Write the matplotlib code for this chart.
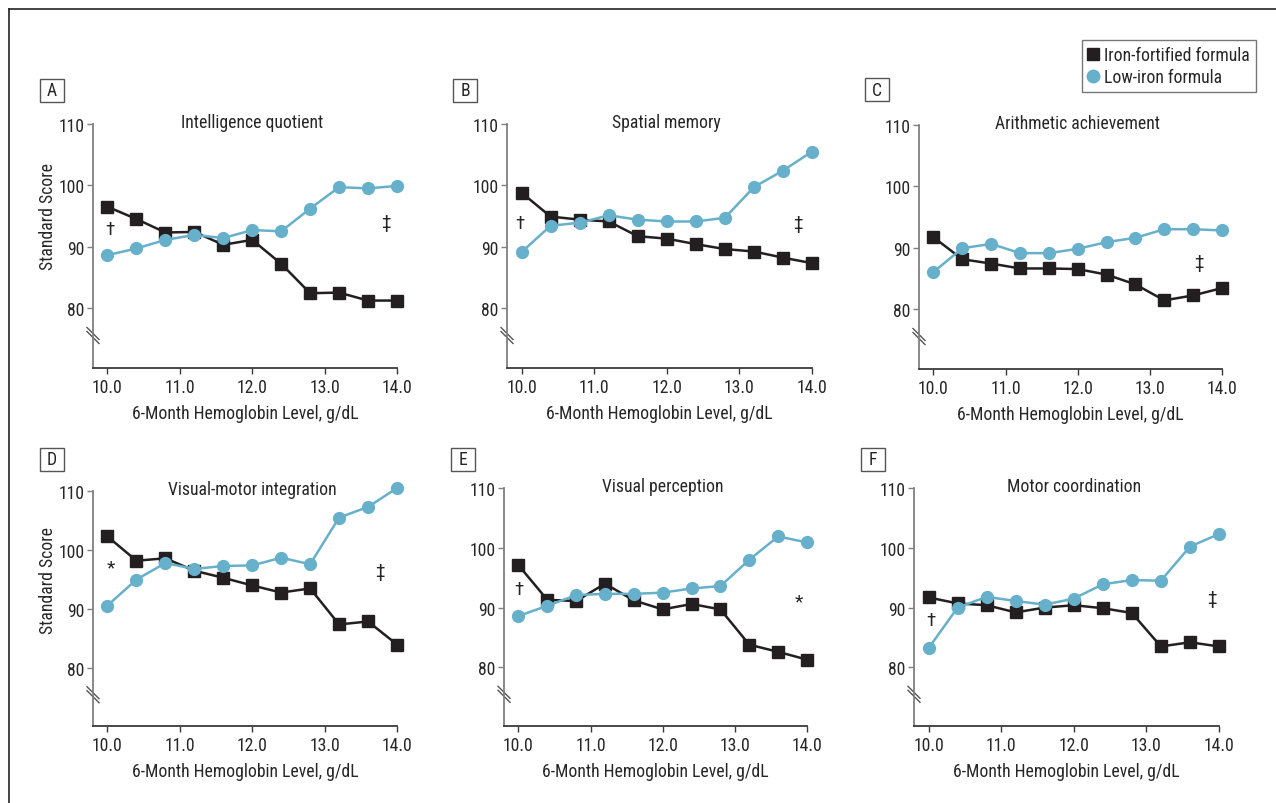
import matplotlib
matplotlib.use("Agg")
import matplotlib.pyplot as plt
from matplotlib.lines import Line2D
from matplotlib.patches import Rectangle
from matplotlib import font_manager

# ---- pick a condensed sans font if one is installed ----
FS = 12.7
chosen = None
stretch = "normal"
pref = ["Liberation Sans Narrow", "DejaVu Sans Condensed", "Roboto Condensed",
        "Open Sans Condensed", "Noto Sans Condensed", "Arial Narrow"]
entries = font_manager.fontManager.ttflist
names = {f.name for f in entries}
for p in pref:
    if p in names:
        chosen = p
        break
if chosen is None:
    for f in entries:
        st = str(f.stretch).lower()
        if ("condensed" in st or "narrow" in f.name.lower() or "condensed" in f.name.lower()) \
                and f.style == "normal" and str(f.weight) in ("400", "normal", "regular"):
            if "extra" in st or "ultra" in st:
                continue
            chosen = f.name
            if "condensed" in st and "condensed" not in f.name.lower():
                stretch = st
            break
if chosen is None:
    chosen = "Liberation Sans"
    FS = 10.5
plt.rcParams['font.family'] = [chosen, 'DejaVu Sans']
plt.rcParams['font.stretch'] = stretch

W, H = 1276, 804

hb = [10.0, 10.4, 10.8, 11.2, 11.6, 12.0, 12.4, 12.8, 13.2, 13.6, 14.0]
x_ticks = [10.0, 11.0, 12.0, 13.0, 14.0]
x_ticklabels = ["10.0", "11.0", "12.0", "13.0", "14.0"]
y_ticks = [80, 90, 100, 110]

titles = ["Intelligence quotient", "Spatial memory", "Arithmetic achievement",
          "Visual-motor integration", "Visual perception", "Motor coordination"]
letters = ["A", "B", "C", "D", "E", "F"]

iron_iq = [96.5, 94.5, 92.3, 92.4, 90.3, 91.1, 87.2, 82.4, 82.5, 81.2, 81.2]
low_iq = [88.6, 89.7, 91.1, 91.9, 91.4, 92.7, 92.5, 96.2, 99.7, 99.5, 99.9]

iron_spatial = [98.8, 94.9, 94.4, 94.1, 91.7, 91.3, 90.4, 89.6, 89.2, 88.2, 87.3]
low_spatial = [89.1, 93.4, 93.9, 95.1, 94.4, 94.1, 94.1, 94.7, 99.7, 102.4, 105.5]

iron_arith = [91.7, 88.1, 87.4, 86.6, 86.6, 86.5, 85.6, 84.0, 81.4, 82.2, 83.4]
low_arith = [86.0, 89.9, 90.6, 89.1, 89.1, 89.8, 90.9, 91.6, 93.0, 93.0, 92.8]

iron_vmi = [102.3, 98.2, 98.6, 96.5, 95.3, 94.0, 92.8, 93.5, 87.4, 87.9, 84.0]
low_vmi = [90.6, 95.0, 97.8, 96.8, 97.3, 97.4, 98.7, 97.6, 105.5, 107.3, 110.5]

iron_vp = [97.1, 91.3, 91.1, 94.0, 91.2, 89.7, 90.6, 89.7, 83.8, 82.6, 81.3]
low_vp = [88.6, 90.3, 92.1, 92.3, 92.3, 92.5, 93.2, 93.6, 98.0, 101.9, 100.9]

iron_motor = [91.7, 90.7, 90.4, 89.2, 90.0, 90.4, 89.9, 89.1, 83.5, 84.2, 83.5]
low_motor = [83.2, 90.0, 91.8, 91.1, 90.5, 91.5, 93.9, 94.6, 94.5, 100.2, 102.3]

iron_series = [iron_iq, iron_spatial, iron_arith, iron_vmi, iron_vp, iron_motor]
low_series = [low_iq, low_spatial, low_arith, low_vmi, low_vp, low_motor]

# significance symbols (symbol, x, y)
symbols = [
    [("\u2020", 10.03, 92.9), ("\u2021", 13.84, 94.0)],
    [("\u2020", 9.98, 93.9), ("\u2021", 13.81, 93.9)],
    [("\u2021", 13.68, 87.7)],
    [("*", 10.04, 97.0), ("\u2021", 13.76, 96.4)],
    [("\u2020", 10.0, 93.1), ("*", 13.88, 91.0)],
    [("\u2020", 10.03, 88.0), ("\u2021", 13.9, 91.6)],
]

# axes boxes in pixels: left, right, top(110), bottom
boxes = [(93, 397, 125, 369), (507, 812, 125, 369), (919, 1222, 126, 370),
         (93, 397, 492, 727), (504, 807, 489, 727), (914, 1219, 489, 727)]
letter_boxes = [(40, 80), (453, 80), (865, 79), (40, 449), (451, 449), (861, 449)]

IRON = "#231f20"
LOW = "#67b0cb"
TXT = "#262626"

fig = plt.figure(figsize=(W / 100, H / 100), dpi=100)

# figure frame lines
fig.add_artist(Line2D([9 / W, 9 / W], [0, 1 - 10 / H], transform=fig.transFigure,
                      color="#222222", lw=1.2))
fig.add_artist(Line2D([9 / W, 1], [1 - 10 / H, 1 - 10 / H], transform=fig.transFigure,
                      color="#222222", lw=1.2))

YMIN = 70.2
for i in range(6):
    l, r, t, b = boxes[i]
    ax = fig.add_axes([l / W, 1 - b / H, (r - l) / W, (b - t) / H])
    ax.plot(hb, iron_series[i], color=IRON, lw=1.8, marker="s", ms=9,
            mfc=IRON, mec=IRON, clip_on=False, zorder=3)
    ax.plot(hb, low_series[i], color=LOW, lw=1.8, marker="o", ms=8.5,
            mfc=LOW, mec=LOW, clip_on=False, zorder=4)
    ax.set_xlim(9.8, 14.0)
    ax.set_ylim(YMIN, 110)
    ax.set_xticks(x_ticks)
    ax.set_xticklabels(x_ticklabels)
    ax.set_yticks(y_ticks)
    for s in ["top", "right"]:
        ax.spines[s].set_visible(False)
    ax.spines["left"].set_color("#808080")
    ax.spines["bottom"].set_color("#3a3a3a")
    ax.spines["left"].set_linewidth(1.3)
    ax.spines["bottom"].set_linewidth(1.3)
    ax.tick_params(axis="y", colors="#808080", labelcolor=TXT, labelsize=FS,
                   length=4, width=1.0, pad=2)
    ax.tick_params(axis="x", colors="#3a3a3a", labelcolor=TXT, labelsize=FS,
                   length=4, width=1.0, pad=3)
    ax.set_xlabel("6-Month Hemoglobin Level, g/dL", fontsize=FS, color=TXT, labelpad=6)
    if i in (0, 3):
        ax.set_ylabel("Standard Score", fontsize=FS, color=TXT)
        ax.yaxis.set_label_coords(-0.118, (95 - YMIN) / (110 - YMIN))
    ax.text(12.0, 110.3, titles[i], ha="center", va="center", fontsize=FS, color=TXT)
    for sym, sx, sy in symbols[i]:
        ax.text(sx, sy, sym, ha="center", va="center", fontsize=FS + 1, color=TXT)
    # axis break marks
    wpx = r - l
    hpx = b - t
    yb = (75.5 - YMIN) / (110 - YMIN)
    for off in (-2.0, 2.0):
        ax.add_line(Line2D([-6 / wpx, 6 / wpx],
                           [yb + (off + 6) / hpx, yb + (off - 6) / hpx],
                           transform=ax.transAxes, color="#555555", lw=1.0,
                           clip_on=False))
    # panel letter box
    lx, ly = letter_boxes[i]
    fig.add_artist(Rectangle((lx / W, 1 - (ly + 23) / H), 24 / W, 23 / H,
                             transform=fig.transFigure, fill=False,
                             edgecolor="#555555", lw=1.0))
    fig.text((lx + 12) / W, 1 - (ly + 11.5) / H, letters[i], ha="center",
             va="center", fontsize=FS, color=TXT)

handles = [Line2D([], [], color=IRON, marker="s", ls="none", ms=9),
           Line2D([], [], color=LOW, marker="o", ls="none", ms=9)]
leg = fig.legend(handles, ["Iron-fortified formula", "Low-iron formula"],
                 loc="upper right", bbox_to_anchor=(1256 / W, 1 - 41 / H),
                 fontsize=FS, frameon=True, fancybox=False, handlelength=0.6,
                 handletextpad=0.3, borderpad=0.35, labelspacing=0.2,
                 borderaxespad=0)
leg.get_frame().set_edgecolor("#555555")
leg.get_frame().set_linewidth(1.0)
for t in leg.get_texts():
    t.set_color(TXT)

fig.savefig("out.png", dpi=100, facecolor="white")
